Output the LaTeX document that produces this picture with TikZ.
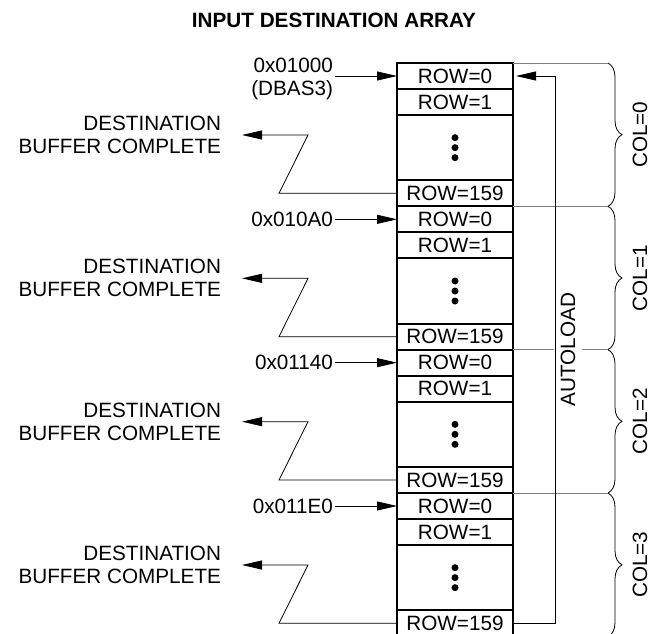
\documentclass[tikz,border=0pt]{standalone}
\usepackage{fontspec}
\setmainfont{Liberation Sans}
\usetikzlibrary{arrows.meta,decorations.pathreplacing}

\begin{document}
\begin{tikzpicture}[x=1pt,y=-1pt,font=\fontsize{20.7}{23}\selectfont,
    >={Triangle[length=20pt,width=9pt]}]

      \useasboundingbox (0,0) rectangle (651,634);

      \node[font=\fontsize{20.7}{23}\selectfont\bfseries] (title) at (334,20) {INPUT DESTINATION ARRAY};

      % the array, one block per column
      \begin{scope}[every node/.style={draw, line width=2pt, minimum width=116pt,
          minimum height=26pt, inner sep=0pt, outer sep=0pt}]
        \node (a0)    at (455,76)     {ROW=0};
        \node (a1)    at (455,102)    {ROW=1};
        \node (adots) at (455,147.67) [minimum height=65.33pt] {};
        \node (a159)  at (455,193.33) {ROW=159};
        \node (b0)    at (455,219.33) {ROW=0};
        \node (b1)    at (455,245.33) {ROW=1};
        \node (bdots) at (455,291)    [minimum height=65.33pt] {};
        \node (b159)  at (455,336.67) {ROW=159};
        \node (c0)    at (455,362.67) {ROW=0};
        \node (c1)    at (455,388.67) {ROW=1};
        \node (cdots) at (455,434.33) [minimum height=65.33pt] {};
        \node (c159)  at (455,480)    {ROW=159};
        \node (d0)    at (455,506)    {ROW=0};
        \node (d1)    at (455,532)    {ROW=1};
        \node (ddots) at (455,577.67) [minimum height=65.33pt] {};
        \node (d159)  at (455,623.33) {ROW=159};
      \end{scope}

      \fill (adots) +(0,-10) circle[radius=3.5pt] +(0,0) circle[radius=3.5pt] +(0,10) circle[radius=3.5pt];
      \fill (bdots) +(0,-10) circle[radius=3.5pt] +(0,0) circle[radius=3.5pt] +(0,10) circle[radius=3.5pt];
      \fill (cdots) +(0,-10) circle[radius=3.5pt] +(0,0) circle[radius=3.5pt] +(0,10) circle[radius=3.5pt];
      \fill (ddots) +(0,-10) circle[radius=3.5pt] +(0,0) circle[radius=3.5pt] +(0,10) circle[radius=3.5pt];

      % start addresses
      \begin{scope}[every node/.style={anchor=east, inner sep=0pt, outer sep=2pt}]
        \node (aaddr) at (335,79) [align=right] {0x01000\\(DBAS3)};
        \node (baddr) at (335,219.33) {0x010A0};
        \node (caddr) at (335,362.67) {0x01140};
        \node (daddr) at (335,506)    {0x011E0};
      \end{scope}

      \begin{scope}[every node/.style={anchor=east, align=right, inner sep=0pt, outer xsep=21pt}]
        \node (adest) at (242,135)    {DESTINATION\\BUFFER COMPLETE};
        \node (bdest) at (242,278.33) {DESTINATION\\BUFFER COMPLETE};
        \node (cdest) at (242,421.67) {DESTINATION\\BUFFER COMPLETE};
        \node (ddest) at (242,565)    {DESTINATION\\BUFFER COMPLETE};
      \end{scope}

      \begin{scope}[line width=0.8pt]
        \draw[->] (aaddr.east |- a0) -- (a0);
        \draw[->] (baddr) -- (b0);
        \draw[->] (caddr) -- (c0);
        \draw[->] (daddr) -- (d0);
        \draw[->] (a159.west) -- ++(-118,0) -- ++(29,-58.33) -- (adest);
        \draw[->] (b159.west) -- ++(-118,0) -- ++(29,-58.33) -- (bdest);
        \draw[->] (c159.west) -- ++(-118,0) -- ++(29,-58.33) -- (cdest);
        \draw[->] (d159.west) -- ++(-118,0) -- ++(29,-58.33) -- (ddest);
      \end{scope}

      % columns
      \coordinate (ka) at (608,63);
      \coordinate (kb) at (608,206.33);
      \coordinate (kc) at (608,349.67);
      \coordinate (kd) at (608,493);
      \coordinate (ke) at (608,636.67);

      \draw[black!50, line width=0.8pt] (a0.north east) -- (ka) (b0.north east) -- (kb)
        (c0.north east) -- (kc) (d0.north east) -- (kd);

      \begin{scope}[decoration={brace,amplitude=14pt}, line width=0.8pt]
        \draw[decorate] (ka) -- (kb);
        \draw[decorate] (kb) -- (kc);
        \draw[decorate] (kc) -- (kd);
        \draw[decorate] (kd) -- (ke);
      \end{scope}

      \begin{scope}[every node/.style={rotate=90}]
        \node (acol) at (640,134.67) {COL=0};
        \node (bcol) at (640,278)    {COL=1};
        \node (ccol) at (640,421.33) {COL=2};
        \node (dcol) at (640,564.67) {COL=3};
      \end{scope}

      \node[rotate=90, fill=white, inner sep=7pt] (autoload) at (568,349.67) {AUTOLOAD};
      \draw[->, line width=0.8pt, shorten >=3pt] (d159.east) -- ++(42,0) |- (a0.east);

    \end{tikzpicture}
\end{document}
